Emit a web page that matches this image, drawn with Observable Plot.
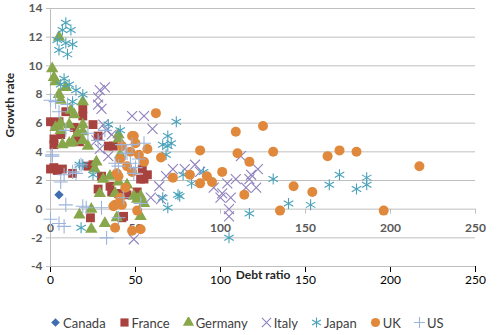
<!DOCTYPE html>
<html>
<head>
<meta charset="utf-8">
<script src="https://cdn.jsdelivr.net/npm/d3@7"></script>
<script src="https://cdn.jsdelivr.net/npm/@observablehq/plot@0.6"></script>
<style>
  html, body { margin: 0; padding: 0; background: #fff; }
  #chart { width: 500px; height: 335px; font-family: Lato, "Liberation Sans", sans-serif; }
  #legend { display: flex; justify-content: flex-start; align-items: center; height: 35px; font-size: 13px; color: #404040; padding-left: 50px; padding-top: 10px; box-sizing: border-box; }
  #legend .item { display: flex; align-items: center; margin-right: 13px; }
  #legend svg { margin-right: 2px; }
</style>
</head>
<body>
<div id="chart"></div>
<script>
// ---- data (debt ratio, growth rate) ----
const seriesNames = ["Canada", "France", "Germany", "Italy", "Japan", "UK", "US"];
const seriesColors = ["#3F6EAE", "#A8423F", "#88A74B", "#8F80BD", "#4AA2BA", "#E0893D", "#9CB3DA"];
const seriesSymbols = ["diamond2", "square", "triangle", "times", "asterisk", "circle", "plus"];

const canada = [[5, 1.0]];
const france = [[0,6.1],[3,6.0],[5,6.1],[9,6.8],[19,7.0],[19,6.5],[14,5.7],[25,5.9],[2,4.9],[16,5.1],[28,5.1],[2,4.5],[6,5.2],[17,4.7],[37,4.4],[34,4.4],[0,2.8],[2,2.9],[4,2.7],[7,2.8],[13,2.5],[22,3.0],[25,3.1],[28,1.4],[35,1.6],[40,1.1],[45,1.0],[51,1.2],[53,2.1],[55,2.1],[57,2.4],[54,2.8],[23.5,-0.6],[42,-0.6],[43,-0.5],[36,1.2],[30,2.3]];
const germany = [[5,12.0],[1,9.8],[2,9.2],[3,8.9],[9,8.5],[5,8.0],[6,7.6],[19,7.5],[14,6.6],[11,5.9],[19,5.9],[16,5.3],[3,5.7],[40,5.2],[12,6.9],[6,6.0],[6,5.5],[19,5.4],[40,4.9],[7,4.5],[13,4.7],[19,4.8],[22,4.4],[11,4.6],[27,3.3],[26,2.8],[31,2.1],[29,1.1],[35,2.3],[45,1.7],[38,1.1],[49,0.9],[53,0.9],[55,0.4],[17,-0.4],[24,0],[32,-1.0],[39,-0.6],[24,-1.4],[53,-0.5],[40,1.9],[51,0.7],[41,3.8]];
const italy = [[29,8.3],[28,7.8],[28,7.3],[30,7.0],[32,8.5],[31,5.9],[33,5.5],[48,6.5],[55,6.5],[60,5.6],[72,2.8],[79,2.8],[85,3.1],[88,2.6],[96,1.5],[101,1.1],[104,1.8],[106,0.8],[105,0],[105,-0.5],[109,2.1],[112,3.7],[115,1.5],[117,2.1],[121,1.5],[122,2.8],[118,2.4],[100,0.8],[49,-2.1],[27,4.8],[36,5.2],[65,0.7],[64,1.6],[59,0.8],[68,2.3],[29,4.2],[34,3.7]];
const japan = [[9,13.0],[7,12.5],[12,12.5],[4,11.8],[9,11.6],[5,11.1],[10,10.8],[13,11.5],[8,9.1],[11,8.7],[6,8.7],[15,8.3],[19,8.0],[13,7.5],[74,6.1],[69,5.1],[71,4.6],[66,4.5],[68,3.8],[66,0.8],[76,0.9],[69,0.1],[90,2.6],[83,1.8],[105,-2.0],[117,-0.3],[131,2.1],[140,0.4],[153,0.3],[164,1.7],[170,2.4],[180,1.4],[186,2.2],[186,1.7],[69,4.4],[78,2.4],[75,1.0],[18,-1.3],[17,3.1],[19,3.1],[25,2.4],[41,5.5],[34,5.9]];
const uk = [[62,6.7],[48,5.1],[50,4.6],[42,4.4],[47,4.0],[52,3.8],[65,3.6],[72,2.2],[41,3.5],[39,2.5],[48,2.6],[55,3.3],[42,0.3],[51,-0.1],[38,-1.3],[48,-1.5],[57,4.2],[49,5.1],[40,2.3],[37,0.2],[53,-1.4],[82,2.4],[88,4.1],[88,1.8],[92,2.3],[95,1.9],[101,2.6],[109,5.4],[125,5.8],[110,3.9],[117,3.3],[114,1.0],[131,4.0],[135,-0.1],[143,1.6],[154,1.2],[163,3.7],[170,4.1],[180,4.0],[217,3.0],[196,-0.1],[38,0.3],[41,0.8],[45,3.0],[44,1.5]];
const us = [[1,3.7],[6,1.9],[8,2.4],[0,-0.7],[5,-1.0],[21,0.1],[33,-2.0],[13,2.6],[18,3.1],[38,3.2],[43,0.8],[44,3.9],[48,4.5],[49,2.5],[9,0.3],[53,0.4],[0,7.6],[22,5.3],[28,4.8],[9,5.5],[5,6.8],[32,5.5],[1,3.8],[19,0.2],[30,0.1],[8,-1.2],[15,2.5],[42,4.5],[45,3.9],[52,3.5],[47,3.2],[50,2.9],[40,3.0],[55,4.6],[40,-0.6],[3,7.5],[10,7.3]];

const yTicks = [-4, -2, 0, 2, 4, 6, 8, 10, 12, 14];
const xTicks = [0, 50, 100, 150, 200, 250];

const allSeries = [canada, france, germany, italy, japan, uk, us];
const filled = {diamond2: true, square: true, triangle: true, circle: true, times: false, asterisk: false, plus: false};
const radii = {diamond2: 4.2, square: 5, triangle: 4.6, circle: 5, times: 4.6, asterisk: 5.2, plus: 4.6};

const dotMarks = allSeries.map((pts, i) => {
  const sym = seriesSymbols[i];
  const opts = {x: d => d[0], y: d => d[1], symbol: sym, r: radii[sym]};
  if (filled[sym]) { opts.fill = seriesColors[i]; opts.stroke = "none"; }
  else { opts.stroke = seriesColors[i]; opts.fill = "none"; opts.strokeWidth = 1.1; }
  return Plot.dot(pts, opts);
});

const tickColor = "#595959";
const plot = Plot.plot({
  width: 500,
  height: 300,
  marginLeft: 50,
  marginRight: 25,
  marginTop: 8,
  marginBottom: 34,
  style: {fontFamily: 'Lato, "Liberation Sans", sans-serif', fontSize: "12px", background: "#fff"},
  x: {domain: [0, 250]},
  y: {domain: [-4, 14]},
  marks: [
    Plot.ruleY(yTicks, {y: d => d, x1: 0, x2: 250, stroke: "#BFBFBF", strokeWidth: 1}),
    Plot.ruleX([0], {y1: -4, y2: 14, stroke: "#BFBFBF"}),
    Plot.ruleX(xTicks, {x: d => d, y1: 0, y2: -0.35, stroke: "#BFBFBF"}),
    Plot.axisY(yTicks, {tickSize: 4, tickPadding: 4, stroke: "#BFBFBF", color: tickColor, fill: tickColor, fontWeight: "bold", fontSize: 12, tickFormat: d => String(d), label: null}),
    Plot.text(xTicks, {x: d => d, y: 0, text: d => String(d), dy: 19, fill: tickColor, fontSize: 12, fontWeight: "bold"}),
    ...dotMarks,
    Plot.text(["Debt ratio"], {frameAnchor: "bottom", dy: 12, text: d => d, fontWeight: "bold", fontSize: 12, fill: "#262626"}),
    Plot.text(["Growth rate"], {frameAnchor: "left", dx: -40, rotate: -90, text: d => d, fontWeight: "bold", fontSize: 12, fill: "#262626"})
  ]
});

const chart = document.getElementById("chart");
chart.appendChild(plot);

// ---- legend (HTML below the SVG) ----
const legend = document.createElement("div");
legend.id = "legend";
const symMap = {diamond2: d3.symbolDiamond2, square: d3.symbolSquare, triangle: d3.symbolTriangle, circle: d3.symbolCircle, times: d3.symbolTimes, asterisk: d3.symbolAsterisk, plus: d3.symbolPlus};
seriesNames.forEach((name, i) => {
  const sym = seriesSymbols[i];
  const item = document.createElement("div");
  item.className = "item";
  const svg = d3.create("svg").attr("width", 11).attr("height", 11);
  const size = Math.PI * radii[sym] * radii[sym] * 0.85;
  const p = svg.append("path").attr("transform", "translate(5.5,5.5)").attr("d", d3.symbol(symMap[sym], size)());
  if (filled[sym]) p.attr("fill", seriesColors[i]);
  else p.attr("fill", "none").attr("stroke", seriesColors[i]).attr("stroke-width", 1.1);
  item.appendChild(svg.node());
  const label = document.createElement("span");
  label.textContent = name;
  item.appendChild(label);
  legend.appendChild(item);
});
chart.appendChild(legend);
</script>
</body>
</html>
